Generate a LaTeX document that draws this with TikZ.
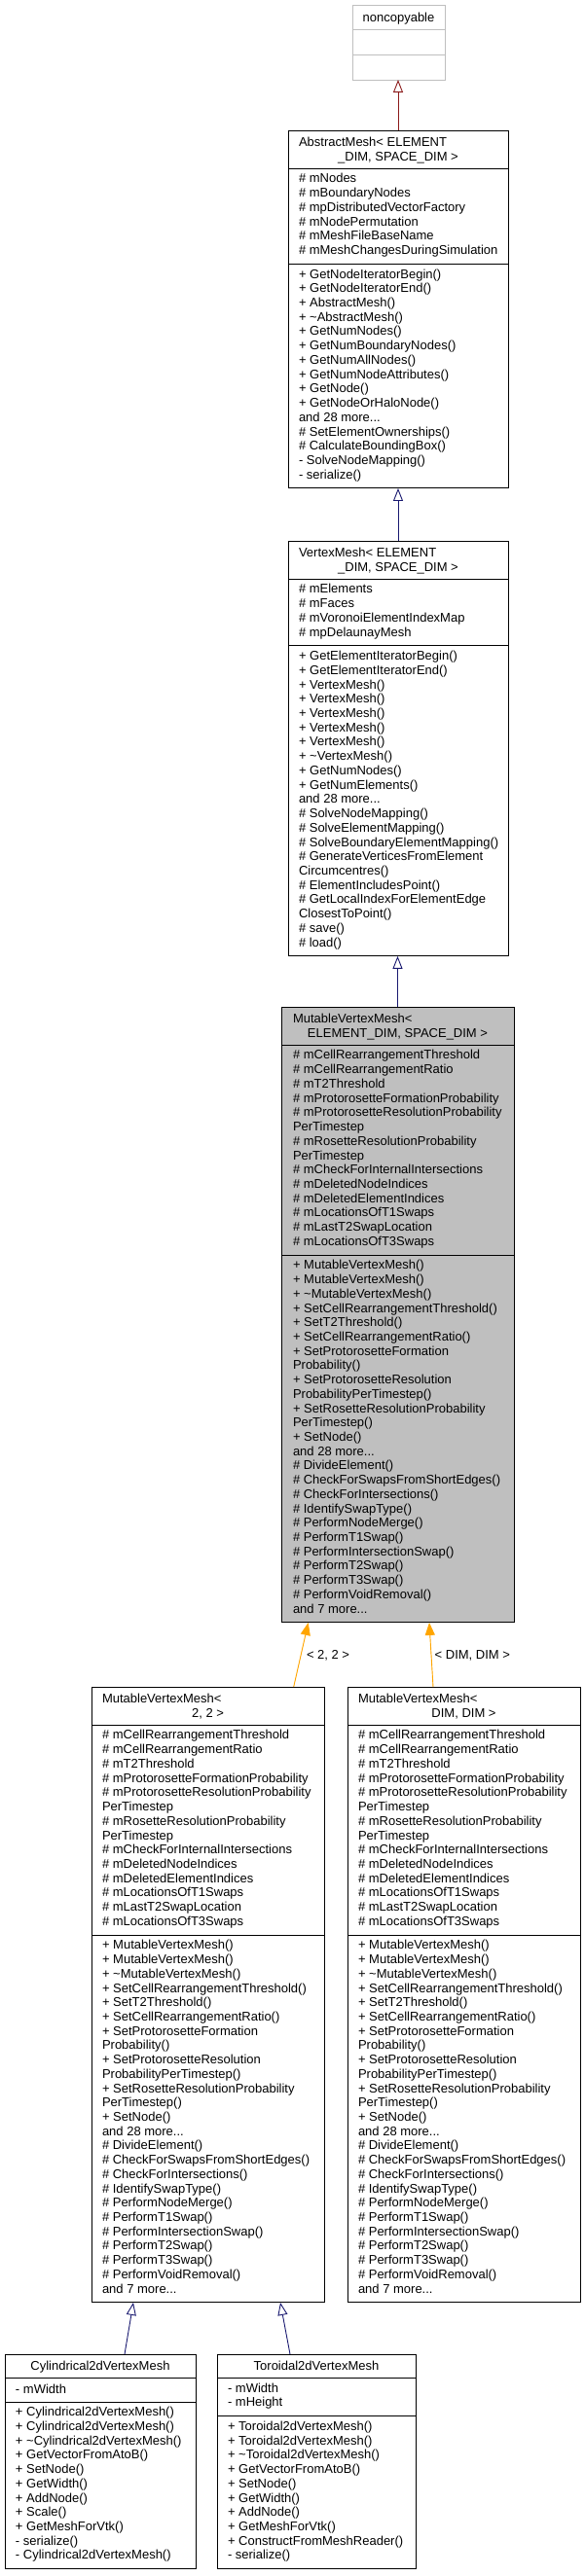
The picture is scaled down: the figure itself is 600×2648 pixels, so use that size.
\documentclass[tikz,border=0pt]{standalone}
\usepackage{fontspec}
\setmainfont{Liberation Sans}
\usetikzlibrary{arrows.meta,calc}
\definecolor{edgeblue}{HTML}{191970}
\definecolor{edgered}{HTML}{8B1A1A}
\definecolor{edgeorange}{HTML}{FFA500}
\definecolor{grayfill}{HTML}{BFBFBF}
\definecolor{lightborder}{HTML}{BFBFBF}
\newcommand\clsfont{\fontsize{13}{14.72}\selectfont}
\newcommand\mutattrs{\# mCellRearrangementThreshold\\\# mCellRearrangementRatio\\\# mT2Threshold\\\# mProtorosetteFormationProbability\\\# mProtorosetteResolutionProbability\\PerTimestep\\\# mRosetteResolutionProbability\\PerTimestep\\\# mCheckForInternalIntersections\\\# mDeletedNodeIndices\\\# mDeletedElementIndices\\\# mLocationsOfT1Swaps\\\# mLastT2SwapLocation\\\# mLocationsOfT3Swaps}
\newcommand\mutmeths{+ MutableVertexMesh()\\+ MutableVertexMesh()\\+ \textasciitilde MutableVertexMesh()\\+ SetCellRearrangementThreshold()\\+ SetT2Threshold()\\+ SetCellRearrangementRatio()\\+ SetProtorosetteFormation\\Probability()\\+ SetProtorosetteResolution\\ProbabilityPerTimestep()\\+ SetRosetteResolutionProbability\\PerTimestep()\\+ SetNode()\\and 28 more...\\\# DivideElement()\\\# CheckForSwapsFromShortEdges()\\\# CheckForIntersections()\\\# IdentifySwapType()\\\# PerformNodeMerge()\\\# PerformT1Swap()\\\# PerformIntersectionSwap()\\\# PerformT2Swap()\\\# PerformT3Swap()\\\# PerformVoidRemoval()\\and 7 more...}
\begin{document}
\begin{tikzpicture}[x=1pt,y=-1pt,
  cls/.style={draw=black, line width=1pt, fill=white, inner sep=0pt, outer sep=0pt, anchor=north west},
  txt/.style={anchor=north west, inner sep=0pt, outer sep=0pt, align=left, font=\clsfont, execute at begin node={\rule{0pt}{11pt}}},
  ctxt/.style={txt, anchor=north, align=center},
  sepline/.style={draw=black, line width=1pt},
  inherit/.style={draw=edgeblue, line width=0.9pt, -{Triangle[open, length=13pt, width=10pt, fill=white]}},
  inheritred/.style={draw=edgered, line width=0.9pt, -{Triangle[open, length=13pt, width=10pt, fill=white]}},
  templ/.style={draw=edgeorange, line width=0.9pt, -{Triangle[length=13pt, width=10pt]}, fill=edgeorange}
]
\useasboundingbox (0,0) rectangle (600,2648);

% noncopyable
\node[cls, draw=lightborder, minimum width=95pt, minimum height=77pt] (nc) at (362,5) {};
\draw[sepline, draw=lightborder] (362,30.7) -- (457,30.7);
\draw[sepline, draw=lightborder] (362,56.3) -- (457,56.3);
\node[ctxt] (nc-t) at (409.5,11.3) {noncopyable};

% AbstractMesh
\node[cls, minimum width=226pt, minimum height=367.96pt] (abs) at (296,134) {};
\draw[sepline] (296,173.24) -- (522,173.24);
\draw[sepline] (296,271.36) -- (522,271.36);
\node[txt] (abs-t1) at (307,139.3) {AbstractMesh< ELEMENT};
\node[ctxt] (abs-t2) at (409,154.02) {\_DIM, SPACE\_DIM >};
\node[txt] (abs-a) at (307,178.54) {\# mNodes\\\# mBoundaryNodes\\\# mpDistributedVectorFactory\\\# mNodePermutation\\\# mMeshFileBaseName\\\# mMeshChangesDuringSimulation};
\node[txt] (abs-m) at (307,276.66) {+ GetNodeIteratorBegin()\\+ GetNodeIteratorEnd()\\+ AbstractMesh()\\+ \textasciitilde AbstractMesh()\\+ GetNumNodes()\\+ GetNumBoundaryNodes()\\+ GetNumAllNodes()\\+ GetNumNodeAttributes()\\+ GetNode()\\+ GetNodeOrHaloNode()\\and 28 more...\\\# SetElementOwnerships()\\\# CalculateBoundingBox()\\- SolveNodeMapping()\\- serialize()};

% VertexMesh
\node[cls, minimum width=226pt, minimum height=426.84pt] (vm) at (296,556) {};
\draw[sepline] (296,595.24) -- (522,595.24);
\draw[sepline] (296,663.92) -- (522,663.92);
\node[txt] (vm-t1) at (307,561.3) {VertexMesh< ELEMENT};
\node[ctxt] (vm-t2) at (409,576.02) {\_DIM, SPACE\_DIM >};
\node[txt] (vm-a) at (307,600.54) {\# mElements\\\# mFaces\\\# mVoronoiElementIndexMap\\\# mpDelaunayMesh};
\node[txt] (vm-m) at (307,669.22) {+ GetElementIteratorBegin()\\+ GetElementIteratorEnd()\\+ VertexMesh()\\+ VertexMesh()\\+ VertexMesh()\\+ VertexMesh()\\+ VertexMesh()\\+ \textasciitilde VertexMesh()\\+ GetNumNodes()\\+ GetNumElements()\\and 28 more...\\\# SolveNodeMapping()\\\# SolveElementMapping()\\\# SolveBoundaryElementMapping()\\\# GenerateVerticesFromElement\\Circumcentres()\\\# ElementIncludesPoint()\\\# GetLocalIndexForElementEdge\\ClosestToPoint()\\\# save()\\\# load()};

% MutableVertexMesh< ELEMENT_DIM, SPACE_DIM >
\node[cls, fill=grayfill, minimum width=239pt, minimum height=632.92pt] (mut) at (289,1035) {};
\draw[sepline] (289,1074.24) -- (528,1074.24);
\draw[sepline] (289,1290.12) -- (528,1290.12);
\node[txt] (mut-t1) at (301,1040.3) {MutableVertexMesh<};
\node[ctxt] (mut-t2) at (408.5,1055.02) {ELEMENT\_DIM, SPACE\_DIM >};
\node[txt] (mut-a) at (301,1079.54) {\mutattrs};
\node[txt] (mut-m) at (301,1295.42) {\mutmeths};

% MutableVertexMesh< 2, 2 >
\node[cls, minimum width=239pt, minimum height=632.92pt] (m22) at (94,1734) {};
\draw[sepline] (94,1773.24) -- (333,1773.24);
\draw[sepline] (94,1989.12) -- (333,1989.12);
\node[txt] (m22-t1) at (105,1739.3) {MutableVertexMesh<};
\node[ctxt] (m22-t2) at (213.5,1754.02) {2, 2 >};
\node[txt] (m22-a) at (105,1778.54) {\mutattrs};
\node[txt] (m22-m) at (105,1994.42) {\mutmeths};

% MutableVertexMesh< DIM, DIM >
\node[cls, minimum width=239pt, minimum height=632.92pt] (mdd) at (357,1734) {};
\draw[sepline] (357,1773.24) -- (596,1773.24);
\draw[sepline] (357,1989.12) -- (596,1989.12);
\node[txt] (mdd-t1) at (368,1739.3) {MutableVertexMesh<};
\node[ctxt] (mdd-t2) at (476.5,1754.02) {DIM, DIM >};
\node[txt] (mdd-a) at (368,1778.54) {\mutattrs};
\node[txt] (mdd-m) at (368,1994.42) {\mutmeths};

% Cylindrical2dVertexMesh
\node[cls, minimum width=196pt, minimum height=220.76pt] (cyl) at (5,2420) {};
\draw[sepline] (5,2444.52) -- (201,2444.52);
\draw[sepline] (5,2469.04) -- (201,2469.04);
\node[ctxt] (cyl-t) at (103,2425.3) {Cylindrical2dVertexMesh};
\node[txt] (cyl-a) at (16,2449.82) {- mWidth};
\node[txt] (cyl-m) at (16,2474.34) {+ Cylindrical2dVertexMesh()\\+ Cylindrical2dVertexMesh()\\+ \textasciitilde Cylindrical2dVertexMesh()\\+ GetVectorFromAtoB()\\+ SetNode()\\+ GetWidth()\\+ AddNode()\\+ Scale()\\+ GetMeshForVtk()\\- serialize()\\- Cylindrical2dVertexMesh()};

% Toroidal2dVertexMesh
\node[cls, minimum width=204pt, minimum height=220.76pt] (tor) at (223,2420) {};
\draw[sepline] (223,2444.52) -- (427,2444.52);
\draw[sepline] (223,2483.76) -- (427,2483.76);
\node[ctxt] (tor-t) at (325,2425.3) {Toroidal2dVertexMesh};
\node[txt] (tor-a) at (234,2449.82) {- mWidth\\- mHeight};
\node[txt] (tor-m) at (234,2489.06) {+ Toroidal2dVertexMesh()\\+ Toroidal2dVertexMesh()\\+ \textasciitilde Toroidal2dVertexMesh()\\+ GetVectorFromAtoB()\\+ SetNode()\\+ GetWidth()\\+ AddNode()\\+ GetMeshForVtk()\\+ ConstructFromMeshReader()\\- serialize()};

% connectors
\draw[inheritred] (abs.north) -- (abs.north |- nc.south);
\draw[inherit] (vm.north) -- (vm.north |- abs.south);
\draw[inherit] (mut.north) -- (mut.north |- vm.south);
\draw[templ] ($(m22.north west)+(207.7,0)$) -- ($(mut.south west)+(27.7,0)$);
\draw[templ] ($(mdd.north west)+(88,0)$) -- ($(mut.south west)+(152,0)$);
\node[txt] (lbl22) at (315,1694.5) {< 2, 2 >};
\node[txt] (lbldd) at (446.7,1694.5) {< DIM, DIM >};
\draw[inherit] ($(cyl.north west)+(123,0)$) -- ($(m22.south west)+(43,0)$);
\draw[inherit] ($(tor.north west)+(75,0)$) -- ($(m22.south west)+(194,0)$);
\end{tikzpicture}
\end{document}
